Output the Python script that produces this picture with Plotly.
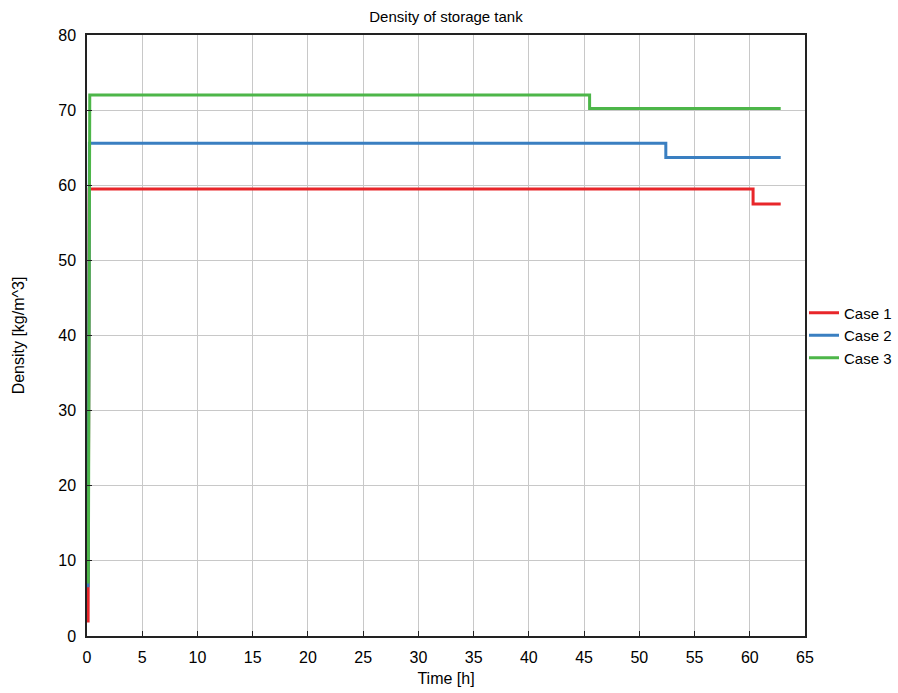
import plotly.graph_objects as go

title = "Density of storage tank"
x_label = "Time [h]"
y_label = "Density [kg/m^3]"

case1_t = [0.1, 0.14, 0.2, 60.3, 60.3, 62.8]
case1_d = [1.8, 30.0, 59.5, 59.5, 57.5, 57.5]
case2_t = [0.1, 0.15, 0.22, 52.4, 52.4, 62.8]
case2_d = [6.5, 35.0, 65.6, 65.6, 63.7, 63.7]
case3_t = [0.12, 0.17, 0.25, 45.5, 45.5, 62.8]
case3_d = [7.0, 40.0, 72.0, 72.0, 70.2, 70.2]

series = [
    ("Case 1", case1_t, case1_d, "#e8262a"),
    ("Case 2", case2_t, case2_d, "#3a7fc1"),
    ("Case 3", case3_t, case3_d, "#4db649"),
]

x_ticks = list(range(0, 70, 5))
y_ticks = list(range(0, 90, 10))

fig = go.Figure()
for name, t, d, c in series:
    fig.add_trace(go.Scatter(x=t, y=d, mode="lines", name=name,
                             line=dict(color=c, width=3)))

font_family = "Liberation Sans, Arial, sans-serif"
fig.update_layout(
    width=898, height=693,
    margin=dict(l=87, r=93, t=35, b=57, autoexpand=False),
    paper_bgcolor="white", plot_bgcolor="white",
    font=dict(family=font_family, color="black", size=16),
    title=dict(text=title, x=0.5, xanchor="center", xref="paper",
               y=1, yref="container", yanchor="top", pad=dict(t=11),
               font=dict(size=15, color="black")),
    legend=dict(x=804 / 898, y=0.5, xref="container", xanchor="left", yanchor="middle",
                font=dict(size=15, color="black"), bgcolor="rgba(0,0,0,0)",
                tracegroupgap=0, itemwidth=30),
    showlegend=True,
)
fig.update_xaxes(
    range=[0, 65], tickvals=x_ticks, ticks="inside", ticklen=5, tickcolor="#222",
    showgrid=True, gridcolor="#c8c8c8", gridwidth=1,
    showline=True, linecolor="#222", linewidth=1.5, mirror=True,
    zeroline=False, tickfont=dict(size=16), ticklabelstandoff=6,
    title=dict(text=x_label, font=dict(size=16), standoff=8),
)
fig.update_yaxes(
    range=[0, 80], tickvals=y_ticks, ticks="inside", ticklen=5, tickcolor="#222",
    showgrid=True, gridcolor="#c8c8c8", gridwidth=1,
    showline=True, linecolor="#222", linewidth=1.5, mirror=True,
    zeroline=False, tickfont=dict(size=16), ticklabelstandoff=6,
    title=dict(text=y_label, font=dict(size=16), standoff=30),
)

fig.write_html("out.html")
